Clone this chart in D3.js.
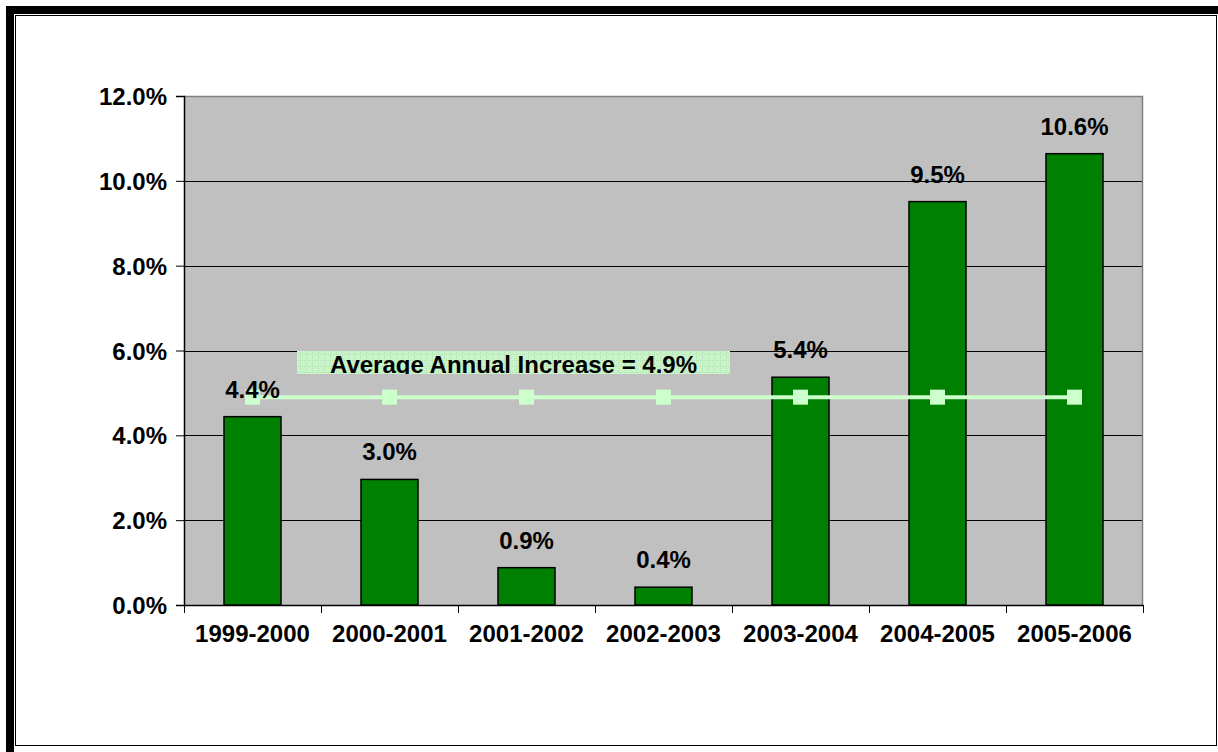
<!DOCTYPE html>
<html>
<head>
<meta charset="utf-8">
<script src="https://cdn.jsdelivr.net/npm/d3@7"></script>
<style>
  html, body { margin: 0; padding: 0; background: #fff; }
  svg { display: block; font-family: Arial, "Liberation Sans", sans-serif; }
</style>
</head>
<body>
<svg id="chart" width="1218" height="752"></svg>
<script>
// Chart data
const categories = ['1999-2000', '2000-2001', '2001-2002', '2002-2003', '2003-2004', '2004-2005', '2005-2006'];
const increase = [4.44, 2.96, 0.88, 0.42, 5.37, 9.51, 10.64];
const averageIncrease = 4.9;
const yTicks = [0, 2, 4, 6, 8, 10, 12];
const averageLabel = 'Average Annual Increase = 4.9%';

const W = 1218, H = 752;
const plot = { left: 184, top: 96, right: 1143, bottom: 605 };

const svg = d3.select('#chart');

// Double frame round the whole picture
svg.append('rect')
  .attr('x', 10).attr('y', 10)
  .attr('width', 1214).attr('height', 746)
  .attr('fill', 'none').attr('stroke', '#000').attr('stroke-width', 8);
svg.append('rect')
  .attr('x', 15.5).attr('y', 15.5)
  .attr('width', 1201).attr('height', 730)
  .attr('fill', 'none').attr('stroke', '#000').attr('stroke-width', 1);

// Scales
const x = d3.scaleBand()
  .domain(categories)
  .range([plot.left, plot.right])
  .paddingInner(0.584)
  .paddingOuter(0.292);

const xEdges = d3.scaleLinear()
  .domain([0, categories.length])
  .range([plot.left, plot.right]);

const y = d3.scaleLinear()
  .domain([0, 12])
  .range([plot.bottom, plot.top]);

// Plot area background
svg.append('rect')
  .attr('x', plot.left).attr('y', plot.top)
  .attr('width', plot.right - plot.left).attr('height', plot.bottom - plot.top)
  .attr('fill', '#c0c0c0');

// Gridlines
svg.append('g')
  .selectAll('line')
  .data(yTicks.filter(d => d > 0 && d < 12))
  .join('line')
  .attr('x1', plot.left).attr('x2', plot.right)
  .attr('y1', d => Math.round(y(d)) + 0.5).attr('y2', d => Math.round(y(d)) + 0.5)
  .attr('stroke', '#000').attr('stroke-width', 1);

// Gray top and right border of the plot area
svg.append('path')
  .attr('d', `M${plot.left},${plot.top + 0.5}H${plot.right - 0.5}V${plot.bottom}`)
  .attr('fill', 'none').attr('stroke', '#808080').attr('stroke-width', 1.5);

// Bars
svg.append('g')
  .selectAll('rect')
  .data(increase)
  .join('rect')
  .attr('x', (d, i) => x(categories[i]))
  .attr('y', d => y(d))
  .attr('width', x.bandwidth())
  .attr('height', d => y(0) - y(d))
  .attr('fill', '#008000')
  .attr('stroke', '#000')
  .attr('stroke-width', 1.5);

// Y axis
const yAxis = svg.append('g')
  .attr('transform', `translate(${plot.left},0)`)
  .call(d3.axisLeft(y)
    .tickValues(yTicks)
    .tickSize(8)
    .tickPadding(9)
    .tickFormat(d => d.toFixed(1) + '%'));
yAxis.select('.domain').attr('stroke', '#000').attr('stroke-width', 1.5);
yAxis.selectAll('.tick line').attr('stroke', '#000');
yAxis.selectAll('.tick text')
  .attr('dy', '0.36em')
  .attr('font-size', 24)
  .attr('font-weight', 'bold')
  .attr('font-family', 'Arial, "Liberation Sans", sans-serif')
  .attr('fill', '#000');

// X axis: ticks at category boundaries
const xTickAxis = svg.append('g')
  .attr('transform', `translate(0,${plot.bottom})`)
  .call(d3.axisBottom(xEdges)
    .tickValues(d3.range(categories.length + 1))
    .tickSize(8)
    .tickSizeOuter(0)
    .tickFormat(''));
xTickAxis.select('.domain').attr('stroke', '#000').attr('stroke-width', 1.5);
xTickAxis.selectAll('.tick line').attr('stroke', '#000');

// X axis: category labels at band centres
const xLabelAxis = svg.append('g')
  .attr('transform', `translate(0,${plot.bottom})`)
  .call(d3.axisBottom(x).tickSize(0).tickSizeOuter(0));
xLabelAxis.select('.domain').remove();
xLabelAxis.selectAll('.tick text')
  .attr('y', 37)
  .attr('dy', 0)
  .attr('font-size', 24)
  .attr('font-weight', 'bold')
  .attr('font-family', 'Arial, "Liberation Sans", sans-serif')
  .attr('fill', '#000');

// Average line with square markers
const avgY = y(averageIncrease);
svg.append('line')
  .attr('x1', x(categories[0]) + x.bandwidth() / 2)
  .attr('x2', x(categories[categories.length - 1]) + x.bandwidth() / 2)
  .attr('y1', avgY).attr('y2', avgY)
  .attr('stroke', '#ccffcc').attr('stroke-width', 4);

svg.append('g')
  .selectAll('rect')
  .data(categories)
  .join('rect')
  .attr('x', d => x(d) + x.bandwidth() / 2 - 7.5)
  .attr('y', avgY - 7.5)
  .attr('width', 15).attr('height', 15)
  .attr('fill', '#ccffcc');

// Data labels above bars
svg.append('g')
  .selectAll('text')
  .data(increase)
  .join('text')
  .attr('x', (d, i) => x(categories[i]) + x.bandwidth() / 2)
  .attr('y', d => y(d) - 19)
  .attr('text-anchor', 'middle')
  .attr('font-size', 24)
  .attr('font-weight', 'bold')
  .attr('fill', '#000')
  .text(d => d.toFixed(1) + '%');

// Average label box, patterned fill, text clipped at the bottom
const defs = svg.append('defs');
const pat = defs.append('pattern')
  .attr('id', 'avgPattern')
  .attr('patternUnits', 'userSpaceOnUse')
  .attr('width', 6).attr('height', 6);
pat.append('rect').attr('width', 6).attr('height', 6).attr('fill', '#c9f3c9');
pat.append('path')
  .attr('d', 'M0,0.5H6M0.5,0V6')
  .attr('stroke', '#b2dfb2').attr('stroke-width', 1)
  .attr('stroke-dasharray', '1,1');

const box = { x: 297, y: 351, w: 433, h: 23 };
defs.append('clipPath').attr('id', 'avgClip')
  .append('rect')
  .attr('x', box.x).attr('y', box.y).attr('width', box.w).attr('height', box.h);

svg.append('rect')
  .attr('x', box.x).attr('y', box.y)
  .attr('width', box.w).attr('height', box.h)
  .attr('fill', 'url(#avgPattern)');

svg.append('text')
  .attr('clip-path', 'url(#avgClip)')
  .attr('x', box.x + box.w / 2)
  .attr('y', 372.5)
  .attr('text-anchor', 'middle')
  .attr('font-size', 24)
  .attr('font-weight', 'bold')
  .attr('fill', '#000')
  .text(averageLabel);
</script>
</body>
</html>
